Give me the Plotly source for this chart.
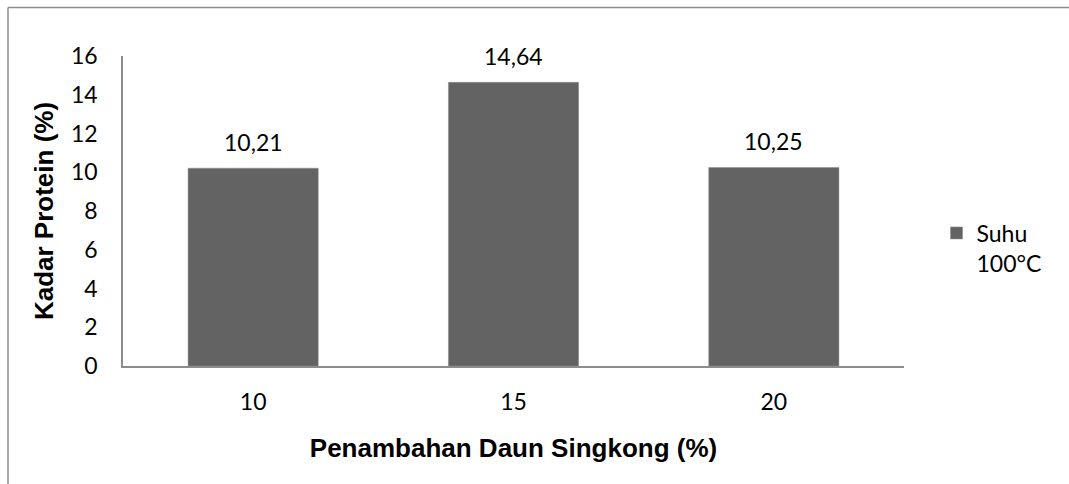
import plotly.graph_objects as go

categories = ["10", "15", "20"]
values = [10.21, 14.64, 10.25]
labels = ["10,21", "14,64", "10,25"]
series_name = "Suhu<br>100°C"
y_ticks = [0, 2, 4, 6, 8, 10, 12, 14, 16]

W, H = 1069, 484
ml, mr, mt, mb = 123, 165, 56, 118
pw = W - ml - mr
ph = H - mt - mb

tick_font = dict(family="Lato, 'Open Sans', sans-serif", size=23, color="#000000")
title_font = dict(family="'Liberation Sans', Arial, sans-serif", size=26, color="#000000")

fig = go.Figure()
fig.add_trace(go.Bar(
    x=categories, y=values, name=series_name,
    marker=dict(color="#636363", line=dict(color="#8a8a8a", width=0.5)),
    showlegend=True,
))

for i, (v, t) in enumerate(zip(values, labels)):
    fig.add_annotation(x=i, y=v, text=t, showarrow=False, yanchor="bottom",
                       yshift=10, font=tick_font)

# outer border (top and left edges visible)
bx = (8 - ml) / pw
by = (H - mb - 7.5) / ph
fig.add_shape(type="line", xref="paper", yref="paper", x0=bx, x1=1.5, y0=by, y1=by,
              line=dict(color="#8c8c8c", width=1.5))
fig.add_shape(type="line", xref="paper", yref="paper", x0=bx, x1=bx, y0=by, y1=-0.6,
              line=dict(color="#8c8c8c", width=1.5))

fig.update_layout(
    width=W, height=H,
    margin=dict(l=ml, r=mr, t=mt, b=mb, autoexpand=False),
    paper_bgcolor="white", plot_bgcolor="white",
    bargap=0.5,
    legend=dict(x=(936.5 - ml) / pw, xanchor="left", y=(H - mb - 248) / ph, yanchor="middle",
                font=tick_font, valign="top", bgcolor="rgba(0,0,0,0)"),
)
fig.update_xaxes(
    type="category", range=[-0.5, len(categories) - 0.5], showline=True,
    linecolor="#8c8c8c", linewidth=1.5,
    ticks="", showgrid=False, tickfont=tick_font, ticklabelstandoff=15,
    title=dict(text="<b>Penambahan Daun Singkong (%)</b>", font=title_font, standoff=24),
    automargin=False,
)
fig.update_yaxes(
    range=[0, 16], tickvals=y_ticks, showline=True, linecolor="#8c8c8c", linewidth=1.5,
    ticks="", showgrid=False, zeroline=False, tickfont=tick_font, ticklabelstandoff=19,
    title=dict(text="<b>Kadar Protein (%)</b>", font=title_font, standoff=10),
    automargin=False,
)

fig.write_html("out.html")
